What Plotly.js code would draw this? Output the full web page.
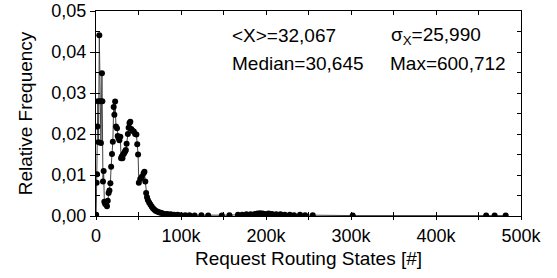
<!DOCTYPE html>
<html>
<head>
<meta charset="utf-8">
<script src="https://cdn.plot.ly/plotly-3.0.1.min.js"></script>
<style>html,body{margin:0;padding:0;background:#fff;}#chart{width:557px;height:278px;}</style>
</head>
<body>
<div id="chart"></div>
<script>
// Request routing states (in thousands) and relative frequency
const statesK = [0.2, 0.7, 1.2, 1.7, 2.2, 3.0, 3.9, 5.0, 5.8, 7.0, 7.5, 8.2, 9.0, 9.8, 10.8, 11.8, 12.9, 13.8, 14.8, 15.8, 16.9, 17.8, 18.8, 19.8, 20.8, 21.6, 22.5, 23.5, 24.7, 25.5, 26.5, 27.5, 28.6, 29.5, 30.3, 31.1, 31.9, 32.7, 33.5, 34.3, 35.1, 36.0, 37.5, 38.4, 39.4, 40.4, 41.5, 43.0, 44.5, 46.0, 47.5, 48.5, 49.5, 50.4, 52.0, 54.0, 56.0, 57.0, 58.0, 59.0, 60.0, 61.0, 62.5, 64.0, 65.5, 67.0, 68.5, 70.0, 72.0, 74.0, 76.0, 78.0, 81.0, 84.0, 88.0, 92.0, 96.0, 100.0, 105.0, 110.0, 116.0, 124.0, 132.0, 148.0, 157.0, 167.0, 172.0, 177.0, 182.0, 187.0, 190.0, 193.0, 196.0, 199.0, 203.0, 207.0, 212.0, 217.0, 222.0, 228.0, 233.0, 240.0, 246.0, 255.0, 302.0, 459.0, 469.0, 482.0];
const relFreq = [0.0003, 0.0081, 0.0102, 0.0218, 0.0280, 0.0180, 0.0441, 0.0280, 0.0178, 0.0348, 0.0280, 0.0084, 0.0110, 0.0035, 0.0029, 0.0032, 0.0024, 0.0037, 0.0056, 0.0062, 0.0080, 0.0120, 0.0151, 0.0181, 0.0266, 0.0247, 0.0279, 0.0218, 0.0214, 0.0195, 0.0190, 0.0185, 0.0193, 0.0141, 0.0145, 0.0141, 0.0150, 0.0152, 0.0155, 0.0158, 0.0161, 0.0176, 0.0200, 0.0215, 0.0227, 0.0230, 0.0212, 0.0208, 0.0206, 0.0200, 0.0199, 0.0175, 0.0150, 0.0081, 0.0090, 0.0096, 0.0104, 0.0108, 0.0084, 0.0056, 0.0046, 0.0039, 0.0033, 0.0028, 0.0023, 0.0019, 0.0016, 0.0013, 0.0011, 0.0009, 0.0008, 0.0007, 0.0005, 0.0005, 0.0004, 0.0003, 0.0003, 0.0002, 0.0002, 0.0002, 0.0001, 0.0002, 0.0001, 0.0001, 0.0002, 0.0003, 0.0003, 0.0004, 0.0004, 0.0005, 0.0006, 0.0007, 0.0006, 0.0005, 0.0006, 0.0005, 0.0004, 0.0004, 0.0003, 0.0003, 0.0002, 0.0003, 0.0002, 0.0002, 0.0001, 0.0001, 0.0001, 0.0001];
const statsLines = ["&lt;X&gt;=32,067", "σ<sub>X</sub>=25,990", "Median=30,645", "Max=600,712"];
const xTitle = "Request Routing States [#]";
const yTitle = "Relative Frequency";

const states = statesK.map(v => v * 1000);

const mainTrace = {
  x: states, y: relFreq, type: 'scatter', mode: 'lines+markers',
  line: {color: '#444', width: 1},
  marker: {color: '#000', size: 6},
  hoverinfo: 'skip', showlegend: false
};
const tickTrace = {
  x: states, y: relFreq, xaxis: 'x2', yaxis: 'y2', type: 'scatter', mode: 'markers',
  marker: {opacity: 0}, hoverinfo: 'skip', showlegend: false
};

const font = {family: 'Liberation Sans, Arial, sans-serif', color: '#000'};
const layout = {
  width: 557, height: 278,
  margin: {l: 96, r: 36, t: 11, b: 62},
  paper_bgcolor: '#fff', plot_bgcolor: '#fff',
  separators: ',.',
  font: Object.assign({size: 18}, font),
  showlegend: false,
  xaxis: {
    range: [0, 500000], dtick: 100000, tick0: 0, tickformat: '~s',
    ticks: 'outside', ticklen: 3, tickwidth: 1, tickcolor: '#000',
    minor: {dtick: 50000, ticks: 'outside', ticklen: 3, tickcolor: '#000'},
    showline: true, linecolor: '#000', linewidth: 1, mirror: true,
    showgrid: false, zeroline: false,
    tickfont: {size: 18},
    title: {text: xTitle, font: {size: 19}, standoff: 7}
  },
  yaxis: {
    range: [0, 0.05], dtick: 0.01, tick0: 0, tickformat: '.2f',
    ticks: 'outside', ticklen: 5, tickwidth: 1, tickcolor: '#000',
    showline: true, linecolor: '#000', linewidth: 1, mirror: true,
    showgrid: false, zeroline: false,
    tickfont: {size: 18},
    title: {text: yTitle, font: {size: 19}, standoff: 13}
  },
  xaxis2: {
    overlaying: 'x', matches: 'x', side: 'bottom', anchor: 'y2',
    dtick: 50000, tick0: 0, ticks: 'inside', ticklen: 4, tickcolor: '#000',
    mirror: 'ticks', showline: false, showticklabels: false, showgrid: false, zeroline: false
  },
  yaxis2: {
    overlaying: 'y', matches: 'y', side: 'left', anchor: 'x2',
    dtick: 0.005, tick0: 0, ticks: 'inside', ticklen: 4, tickcolor: '#000',
    mirror: 'ticks', showline: false, showticklabels: false, showgrid: false, zeroline: false
  },
  annotations: [
    {text: statsLines[0], xref: 'paper', yref: 'paper', x: 0.315, y: 0.88, xanchor: 'left', yanchor: 'middle', showarrow: false, font: {size: 19}},
    {text: statsLines[1], xref: 'paper', yref: 'paper', x: 0.69, y: 0.88, xanchor: 'left', yanchor: 'middle', showarrow: false, font: {size: 19}},
    {text: statsLines[2], xref: 'paper', yref: 'paper', x: 0.315, y: 0.745, xanchor: 'left', yanchor: 'middle', showarrow: false, font: {size: 19}},
    {text: statsLines[3], xref: 'paper', yref: 'paper', x: 0.687, y: 0.745, xanchor: 'left', yanchor: 'middle', showarrow: false, font: {size: 19}}
  ]
};

Plotly.newPlot('chart', [tickTrace, mainTrace], layout, {displayModeBar: false, staticPlot: true});
</script>
</body>
</html>
